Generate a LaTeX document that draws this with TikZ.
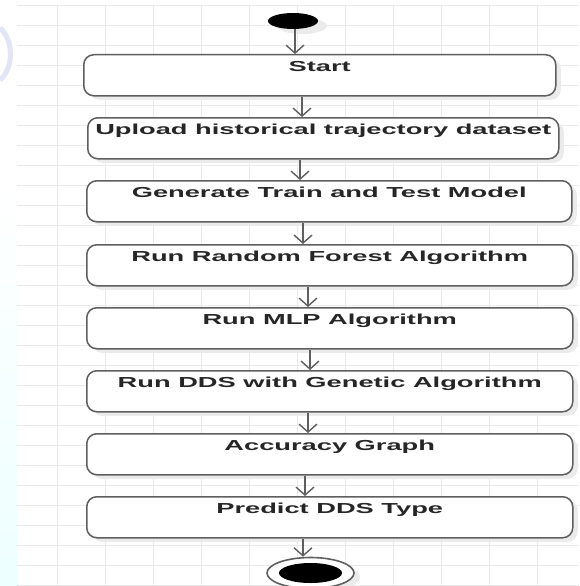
\documentclass[tikz,border=0pt]{standalone}
\usepackage{fontspec}
\setmainfont{Liberation Sans}
\usetikzlibrary{arrows.meta,shadows,shapes.geometric}
\newcommand{\stxt}[1]{\scalebox{1.88}[1]{\fontsize{14.5}{16}\selectfont\bfseries #1}}
\definecolor{gridc}{RGB}{234,234,234}
\definecolor{watermark}{RGB}{226,229,246}
\definecolor{edgec}{RGB}{95,95,95}
\begin{document}
\begin{tikzpicture}[x=1pt,y=-1pt,
  actbox/.style={draw=edgec, line width=1.5pt, rounded corners=10pt, fill=white,
    inner xsep=0pt, inner ysep=0pt, text height=17pt, text depth=24pt,
    anchor=north west, text=black!85,
    drop shadow={shadow xshift=5pt, shadow yshift=-4pt, fill=black!8, opacity=1}},
  flow/.style={draw=edgec, line width=1.4pt,
    -{Straight Barb[length=8pt,width=18pt,line width=1.4pt]}},
  gridline/.style={draw=gridc, line width=0.9pt},
]
\useasboundingbox (0,0) rectangle (579,586);
\fill[white] (0,0) rectangle (579,586);
% left strip decorations
\shade[top color=white, bottom color=cyan!7] (0,180) rectangle (17,586);
\draw[line width=5pt, watermark] (0,28) .. controls (14,40) and (14,68) .. (0,80);
% grid
\foreach \x in {57,105,...,579} \draw[gridline] (\x,5) -- (\x,586);
\foreach \y in {5,25,...,586} \draw[gridline] (17,\y) -- (579,\y);

% start node
\node[fill=black, ellipse, minimum width=50pt, minimum height=16pt, inner sep=0pt,
  drop shadow={shadow xshift=9pt, shadow yshift=-5pt, fill=black!8, opacity=1}] (s) at (293,21) {};

% activity boxes
\node[actbox, minimum width=472pt] (b1) at (83,54) {\stxt{Start}};
\node[actbox, minimum width=471pt] (b2) at (87,117) {\stxt{Upload historical trajectory dataset}};
\node[actbox, minimum width=485pt] (b3) at (86,180) {\stxt{Generate Train and Test Model}};
\node[actbox, minimum width=486pt] (b4) at (86,244) {\stxt{Run Random Forest Algorithm}};
\node[actbox, minimum width=486pt] (b5) at (86,307) {\stxt{Run MLP Algorithm}};
\node[actbox, minimum width=486pt] (b6) at (86,370) {\stxt{Run DDS with Genetic Algorithm}};
\node[actbox, minimum width=486pt] (b7) at (86,433) {\stxt{Accuracy Graph}};
\node[actbox, minimum width=486pt] (b8) at (86,496) {\stxt{Predict DDS Type}};

% end node
\node[draw=edgec, line width=1.6pt, ellipse, minimum width=87pt, minimum height=31pt,
  inner sep=0pt, fill=white,
  drop shadow={shadow xshift=6pt, shadow yshift=-4pt, fill=black!8, opacity=1}] (e) at (310.5,573) {};
\node[fill=black, ellipse, minimum width=63pt, minimum height=20pt, inner sep=0pt] (ei) at (e.center) {};

% connectors
\draw[flow] (s.south -| 295,0) -- (b1.north -| 295,0);
\draw[flow] (b1.south -| 302,0) -- (b2.north -| 302,0);
\draw[flow] (b2.south -| 300,0) -- (b3.north -| 300,0);
\draw[flow] (b3.south -| 303,0) -- (b4.north -| 303,0);
\draw[flow] (b4.south -| 308,0) -- (b5.north -| 308,0);
\draw[flow] (b5.south -| 310,0) -- (b6.north -| 310,0);
\draw[flow] (b6.south -| 308,0) -- (b7.north -| 308,0);
\draw[flow] (b7.south -| 305,0) -- (b8.north -| 305,0);
\draw[flow] (b8.south -| 303,0) -- (e.north -| 303,0);
\end{tikzpicture}
\end{document}
